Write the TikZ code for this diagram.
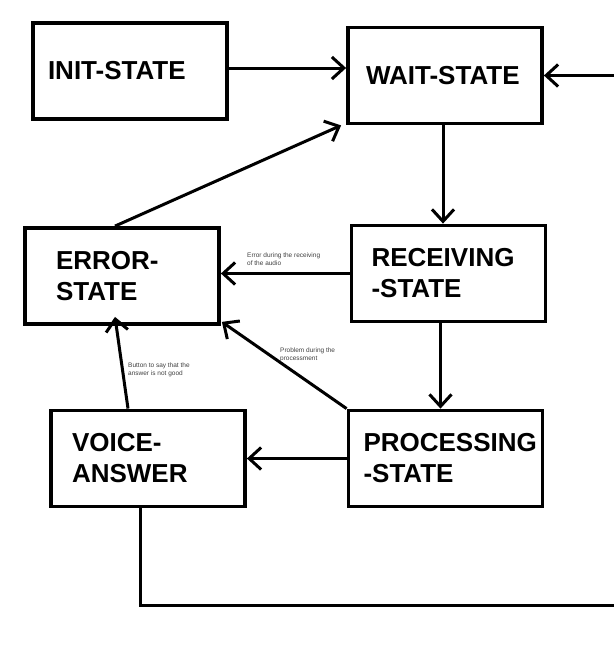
\documentclass[tikz,border=0pt]{standalone}
\usepackage{fontspec}
\setmainfont{Liberation Sans}
\usetikzlibrary{arrows.meta}
\hfuzz=10pt
\newcommand{\statefont}{\fontsize{26}{31}\selectfont\bfseries}
\newcommand{\notefont}{\fontsize{6.5}{7.8}\selectfont}
\tikzset{
    state/.style={draw, line width=3.8pt, minimum width=194pt, minimum height=96pt, align=left, font=\statefont},
    flow/.style={line width=3pt, -{Straight Barb[length=12pt, width=22pt, line width=3pt]}},
    note/.style={font=\notefont, align=left, text=black!75, anchor=west, inner sep=0pt}
}
\begin{document}
\begin{tikzpicture}[x=1pt, y=-1pt]
    \useasboundingbox (0,0) rectangle (613,645);
    \node[state, inner xsep=15pt, text width=164pt] (init) at (130,71) {INIT-STATE};
    \node[state, inner xsep=18pt, text width=158pt] (wait) at (445,75.5) {WAIT-STATE};
    \node[state, inner xsep=31pt, text width=132pt] (err) at (122,276) {ERROR-\\STATE};
    \node[state, inner xsep=20pt, text width=154pt] (rec) at (448.5,273.5) {RECEIVING\\-STATE};
    \node[state, inner xsep=21pt, text width=152pt] (voice) at (148,458.5) {VOICE-\\ANSWER};
    \node[state, inner xsep=15pt, text width=164pt] (proc) at (445.5,458.5) {PROCESSING\\-STATE};
    \coordinate (loopa) at (140,605);
    \coordinate (loopb) at (630,605);
    \draw[flow] (init.east |- 0,68) -- (wait.west |- 0,68);
    \draw[flow] ([xshift=-7pt]err.north) -- ([xshift=-5pt]wait.south west);
    \draw[flow] ([xshift=-2pt]wait.south) -- ([xshift=-2pt]wait.south |- rec.north);
    \draw[flow] (rec.west) -- (rec.west -| err.east);
    \draw[flow] ([xshift=-8pt]rec.south) -- ([xshift=-8pt]rec.south |- proc.north);
    \draw[flow] (proc.north west) -- ([shift={(1pt,4pt)}]err.south east);
    \draw[flow] (proc.west) -- (voice.east);
    \draw[flow] ([xshift=-20pt]voice.north) -- ([shift={(-7pt,9pt)}]err.south);
    \draw[flow] (loopa |- voice.south) -- (loopa) -- (loopb) -- (loopb |- wait.east) -- (wait.east);
    \node[note] (errnote) at (247,259.5) {Error during the receiving\\of the audio};
    \node[note] (probnote) at (280,354.5) {Problem during the\\processment};
    \node[note] (butnote) at (128,370) {Button to say that the\\answer is not good};
\end{tikzpicture}
\end{document}
